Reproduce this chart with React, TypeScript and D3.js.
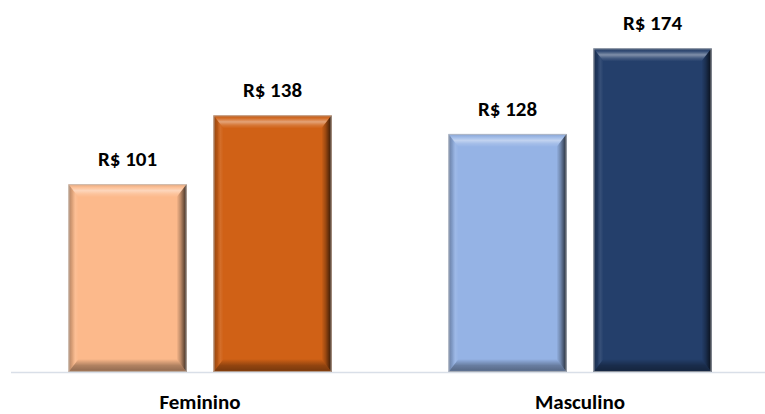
import React from "react";
import * as d3 from "d3";

// Average ticket by gender, two series per category
const categories = ["Feminino", "Masculino"];
const seriesA = [101, 128];
const seriesB = [138, 174];
const barColors = [
  ["#FCB98B", "#D06116"],
  ["#95B3E5", "#243F6B"],
];
const valuePrefix = "R$ ";

const W = 765;
const H = 414;
const baseY = 372;
const bevel = 10;
const font = "Calibri, Carlito, Lato, 'Open Sans', sans-serif";
const fontSize = 21;

export default function App() {
  const x = d3
    .scaleBand<string>()
    .domain(categories)
    .range([10, 770])
    .paddingInner(0.3079)
    .paddingOuter(0.154);
  const sub = d3
    .scaleBand<number>()
    .domain([0, 1])
    .range([0, x.bandwidth()])
    .paddingInner(0.186)
    .paddingOuter(0);
  const y = d3.scaleLinear().domain([0, 200]).range([baseY, 0]);

  const bars = categories.flatMap((c, ci) =>
    [seriesA[ci], seriesB[ci]].map((v, si) => ({
      key: `${c}-${si}`,
      x0: (x(c) as number) + (sub(si) as number),
      w: sub.bandwidth(),
      y0: y(v),
      h: baseY - y(v),
      v,
      color: barColors[ci][si],
    }))
  );

  return (
    <svg
      width={W}
      height={H}
      style={{ position: "absolute", left: 0, top: 0, background: "#fff" }}
    >
      <defs>
        <linearGradient id="bevTop" x1="0" y1="0" x2="0" y2="1">
          <stop offset="0" stopColor="#000" stopOpacity="0.08" />
          <stop offset="0.25" stopColor="#fff" stopOpacity="0.1" />
          <stop offset="0.5" stopColor="#fff" stopOpacity="0.42" />
          <stop offset="0.75" stopColor="#fff" stopOpacity="0.15" />
          <stop offset="1" stopColor="#fff" stopOpacity="0" />
        </linearGradient>
        <linearGradient id="bevLeft" x1="0" y1="0" x2="1" y2="0">
          <stop offset="0" stopColor="#000" stopOpacity="0.3" />
          <stop offset="0.4" stopColor="#000" stopOpacity="0.12" />
          <stop offset="0.7" stopColor="#fff" stopOpacity="0.08" />
          <stop offset="1" stopColor="#fff" stopOpacity="0" />
        </linearGradient>
        <linearGradient id="bevRight" x1="0" y1="0" x2="1" y2="0">
          <stop offset="0" stopColor="#000" stopOpacity="0" />
          <stop offset="0.4" stopColor="#000" stopOpacity="0.25" />
          <stop offset="0.8" stopColor="#000" stopOpacity="0.6" />
          <stop offset="1" stopColor="#000" stopOpacity="0.8" />
        </linearGradient>
        <linearGradient id="bevBottom" x1="0" y1="0" x2="0" y2="1">
          <stop offset="0" stopColor="#000" stopOpacity="0" />
          <stop offset="0.5" stopColor="#000" stopOpacity="0.3" />
          <stop offset="0.85" stopColor="#000" stopOpacity="0.4" />
          <stop offset="1" stopColor="#000" stopOpacity="0.25" />
        </linearGradient>
      </defs>

      <line
        x1={11}
        x2={W}
        y1={baseY + 0.5}
        y2={baseY + 0.5}
        stroke="#D9DFE8"
        strokeWidth={1.5}
      />

      {bars.map((b) => {
        const l = b.x0;
        const r = b.x0 + b.w;
        const t = b.y0;
        const bt = baseY;
        const pts = (p: number[][]) => p.map((q) => q.join(",")).join(" ");
        return (
          <g key={b.key}>
            <rect x={l} y={t} width={b.w} height={b.h} fill={b.color} />
            <polygon
              points={pts([[l, t], [r, t], [r - bevel, t + bevel * 1.3], [l + bevel, t + bevel * 1.3]])}
              fill="url(#bevTop)"
            />
            <polygon
              points={pts([[l, t], [l + bevel, t + bevel * 1.3], [l + bevel, bt - bevel * 1.3], [l, bt]])}
              fill="url(#bevLeft)"
            />
            <polygon
              points={pts([[r, t], [r, bt], [r - bevel, bt - bevel * 1.3], [r - bevel, t + bevel * 1.3]])}
              fill="url(#bevRight)"
            />
            <polygon
              points={pts([[l, bt], [l + bevel, bt - bevel * 1.3], [r - bevel, bt - bevel * 1.3], [r, bt]])}
              fill="url(#bevBottom)"
            />
            <rect
              x={l + 0.5}
              y={t + 0.5}
              width={b.w - 1}
              height={b.h - 1}
              fill="none"
              stroke="#BFBFBF"
              strokeOpacity={0.7}
            />
            <text
              x={(l + r) / 2}
              y={t - 18}
              textAnchor="middle"
              fontFamily={font}
              fontWeight="bold"
              fontSize={fontSize}
              fill="#000"
            >
              {valuePrefix + b.v}
            </text>
          </g>
        );
      })}

      {categories.map((c) => (
        <text
          key={c}
          x={(x(c) as number) + x.bandwidth() / 2}
          y={409}
          textAnchor="middle"
          fontFamily={font}
          fontWeight="bold"
          fontSize={fontSize}
          fill="#000"
        >
          {c}
        </text>
      ))}
    </svg>
  );
}
